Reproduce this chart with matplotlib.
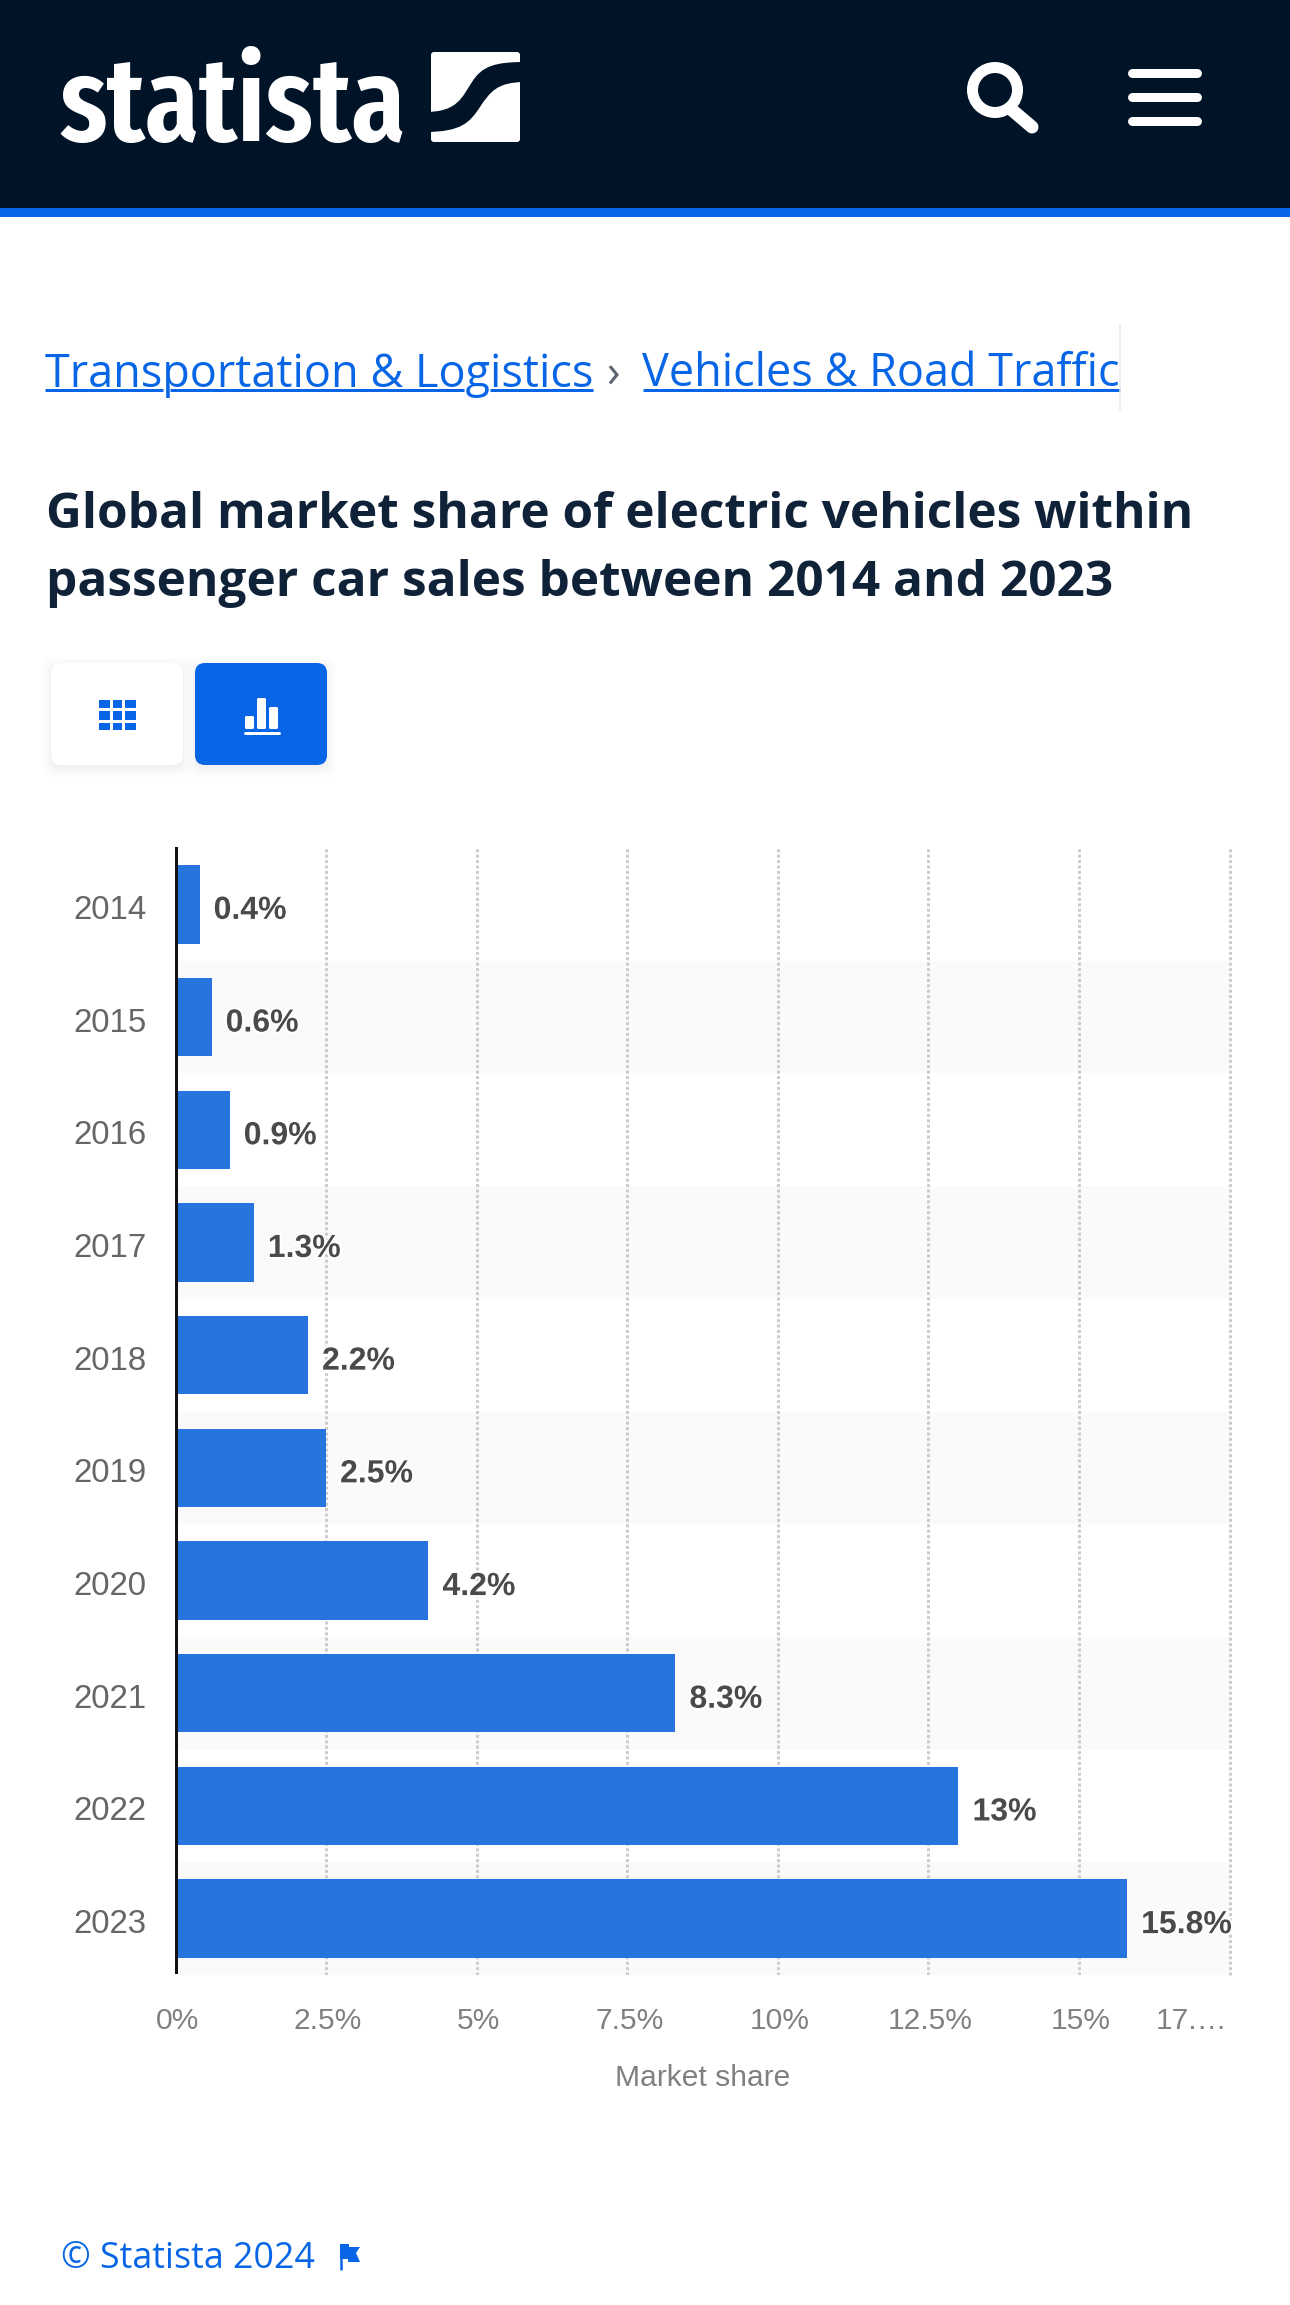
import matplotlib
matplotlib.use('Agg')
import matplotlib.pyplot as plt
import matplotlib.patheffects as pe
from matplotlib.patches import Rectangle, FancyBboxPatch, Circle, PathPatch, Polygon
from matplotlib.path import Path
from matplotlib.transforms import ScaledTranslation

W, H = 1290, 2305
DPI = 100

years = ['2014', '2015', '2016', '2017', '2018', '2019', '2020', '2021', '2022', '2023']
share = [0.4, 0.6, 0.9, 1.3, 2.2, 2.5, 4.2, 8.3, 13, 15.8]
share_labels = ['0.4%', '0.6%', '0.9%', '1.3%', '2.2%', '2.5%', '4.2%', '8.3%', '13%', '15.8%']
x_ticks = [0, 2.5, 5, 7.5, 10, 12.5, 15, 17.5]
x_tick_labels = ['0%', '2.5%', '5%', '7.5%', '10%', '12.5%', '15%', '17.…']

NAVY = '#001327'
BLUE = '#0866e6'
BAR = '#2874de'
ARIAL = 'Liberation Sans'
OPEN = 'Open Sans'


def pt(px):
    # font sizes below are measured in reference pixels
    return px * 72.0 / DPI


fig = plt.figure(figsize=(W / DPI, H / DPI), dpi=DPI, facecolor='white')

# page furniture, in reference pixel coordinates
bg = fig.add_axes([0, 0, 1, 1])
bg.set_xlim(0, W)
bg.set_ylim(H, 0)
bg.axis('off')

bg.add_patch(Rectangle((0, 0), W, 208, fc=NAVY, ec='none'))
bg.add_patch(Rectangle((0, 208), W, 9, fc=BLUE, ec='none'))

# logo
bg.text(60, 141, 'statista', color='white', fontsize=pt(119), family='Fira Sans Extra Condensed',
        fontweight='semibold', va='baseline', ha='left')
bg.add_patch(FancyBboxPatch((431, 52), 89, 90, boxstyle='round,pad=0,rounding_size=3', fc='white', ec='none'))
bg.add_patch(PathPatch(Path([(425, 112), (458, 112), (462, 97), (472, 82), (482, 66), (495, 62), (525, 62),
                             (525, 82), (497, 82), (490, 92), (480, 107), (470, 122), (462, 132), (425, 132),
                             (425, 112)],
                            [Path.MOVETO, Path.CURVE4, Path.CURVE4, Path.CURVE4, Path.CURVE4, Path.CURVE4, Path.CURVE4,
                             Path.LINETO, Path.CURVE4, Path.CURVE4, Path.CURVE4, Path.CURVE4, Path.CURVE4, Path.CURVE4,
                             Path.CLOSEPOLY]),
                       fc=NAVY, ec='none'))

# search + menu
bg.add_patch(Circle((995, 90), 22.5, fc='none', ec='white', lw=pt(11)))
bg.plot([1012, 1032], [110, 127], color='white', lw=pt(13), solid_capstyle='round')
for y in (73, 97, 121):
    bg.plot([1132, 1197], [y, y], color='white', lw=pt(9), solid_capstyle='round')

# breadcrumb
crumb = dict(color=BLUE, fontsize=pt(45), family=OPEN, va='baseline')
bg.text(45, 386.5, 'Transportation & Logistics', ha='left', **crumb)
bg.text(606, 386.5, '›', ha='left', color='#5b6470', fontsize=pt(45), family=OPEN, va='baseline')
t = bg.text(642, 386.5, 'Vehicles & Road Traffic', ha='left', **crumb)
t.set_clip_path(Rectangle((0, 300), 1120, 120, transform=bg.transData))
for x0, x1 in [(45, 163), (170, 464), (490, 593), (643, 1120)]:
    bg.plot([x0, x1], [390, 390], color=BLUE, lw=pt(3), solid_capstyle='butt')
bg.plot([1120, 1120], [324, 410], color='#e3e6ec', lw=pt(1.5))

# title
title = dict(color='#0f2238', fontsize=pt(49.5), family=OPEN, fontweight='bold', va='baseline', ha='left')
bg.text(45.5, 527.5, 'Global market share of electric vehicles within', **title)
bg.text(45.5, 596.5, 'passenger car sales between 2014 and 2023', **title)

# table / chart buttons
for x0, col in [(51, 'white'), (195, BLUE)]:
    for grow, alpha in [(9, 0.008), (6, 0.012), (3, 0.016), (1, 0.02)]:
        bg.add_patch(FancyBboxPatch((x0 - grow, 663 + 3 - grow), 132 + 2 * grow, 102 + 2 * grow,
                                    boxstyle='round,pad=0,rounding_size=10',
                                    fc='black', ec='none', alpha=alpha))
    bg.add_patch(FancyBboxPatch((x0, 663), 132, 102, boxstyle='round,pad=0,rounding_size=10',
                                fc=col, ec='none'))
for gx, gw in [(99, 11), (112.5, 9), (124.5, 11)]:
    for gy, gh in [(700, 8), (711, 8.5), (722.5, 7.5)]:
        bg.add_patch(Rectangle((gx, gy), gw, gh, fc=BLUE, ec='none'))
for bx, top in [(245, 716), (257, 698), (269, 707)]:
    bg.add_patch(FancyBboxPatch((bx + 1, top + 1), 7, 727 - top, boxstyle='round,pad=1,rounding_size=1.5',
                                fc='white', ec='none'))
bg.plot([245, 279], [732.5, 732.5], color='white', lw=pt(3), solid_capstyle='round')

# footer
bg.text(61, 2268, '© Statista 2024', color=BLUE, fontsize=pt(35.8), family=OPEN, va='baseline', ha='left')
bg.plot([341, 341], [2244, 2270], color=BLUE, lw=pt(2.5), solid_capstyle='butt')
bg.add_patch(Polygon([(340, 2244), (349, 2244), (349, 2247), (360, 2247), (356, 2253), (360, 2262),
                      (348, 2262), (348, 2259), (340, 2259)], fc=BLUE, ec='none'))

# chart
left, right, top, bottom = 175.5, 1229.5, 848, 1975
ax = fig.add_axes([left / W, 1 - bottom / H, (right - left) / W, (bottom - top) / H])
ax.patch.set_alpha(0)
ypos = list(range(len(years)))
ax.set_xlim(0, 17.5)
ax.set_ylim(len(years) - 0.5, -0.5)

for i in ypos:
    if i % 2 == 1:
        ax.axhspan(i - 0.5, i + 0.5, color='#fafafa', lw=0, zorder=0)
ax.barh(ypos, share, height=0.695, color=BAR, zorder=3)
for v, i, lab in zip(share, ypos, share_labels):
    ax.annotate(lab, (v, i), xytext=(pt(14), pt(-6.5)), textcoords='offset points', ha='left', va='center',
                color='#4a4a4a', fontsize=pt(32), family=ARIAL, fontweight='bold', zorder=5, annotation_clip=False,
                path_effects=[pe.withStroke(linewidth=pt(4), foreground='white')])

ax.set_xticks(x_ticks)
ax.set_xticklabels(x_tick_labels, family=ARIAL, fontsize=pt(30), color='#808080')
ax.set_yticks(ypos)
ax.set_yticklabels(years, family=ARIAL, fontsize=pt(33), color='#666666')
ax.tick_params(axis='x', length=0, pad=pt(32))
ax.tick_params(axis='y', length=0, pad=pt(29))
for lab in ax.get_yticklabels():
    lab.set_transform(lab.get_transform() + ScaledTranslation(0, -2.5 / DPI, fig.dpi_scale_trans))
for lab in ax.get_xticklabels():
    lab.set_transform(lab.get_transform() + ScaledTranslation(2 / DPI, 0, fig.dpi_scale_trans))
last = ax.get_xticklabels()[-1]
last.set_ha('right')
last.set_transform(last.get_transform() + ScaledTranslation(-4 / DPI, 0, fig.dpi_scale_trans))

ax.grid(axis='x', color='#cccccc', lw=pt(3), linestyle=(0, (1, 0.8)), zorder=1)
ax.grid(axis='y', visible=False)
ax.xaxis.get_gridlines()[0].set_visible(False)
ax.xaxis.get_gridlines()[-1].set_clip_on(False)
for s in ('top', 'right', 'bottom'):
    ax.spines[s].set_visible(False)
ax.spines['left'].set_color('#111111')
ax.spines['left'].set_linewidth(pt(3))
ax.spines['left'].set_zorder(6)
ax.spines['left'].set_bounds(-0.5, 9.47)
ax.set_xlabel('Market share', family=ARIAL, fontsize=pt(30), color='#808080', labelpad=pt(29))

fig.savefig('out.png', dpi=DPI, facecolor='white')
